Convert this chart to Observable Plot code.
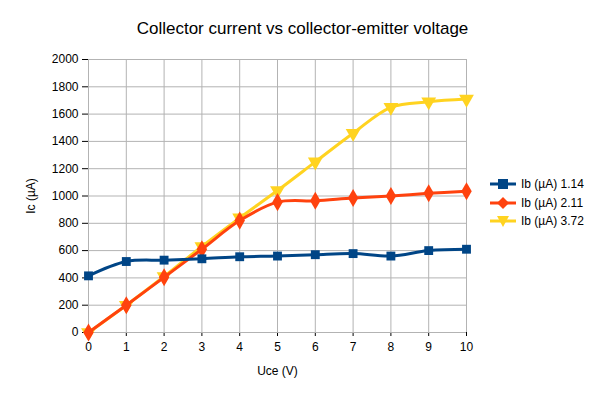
<!DOCTYPE html>
<html><head><meta charset="utf-8">
<script src="https://cdn.jsdelivr.net/npm/d3@7"></script>
<script src="https://cdn.jsdelivr.net/npm/@observablehq/plot@0.6"></script>
<style>
body{margin:0;background:#fff;font-family:"Liberation Sans",Arial,sans-serif}
#wrap{position:relative;width:605px;height:402px}
#title{position:absolute;top:19px;left:0;width:605px;text-align:center;font-size:17px;color:#000}
#legend{position:absolute;left:490px;top:175px;font-size:12px}
#legend div{display:flex;align-items:center;height:18.5px}
#legend svg{margin-right:5px}
</style></head><body>
<div id="wrap"><div id="title">Collector current vs collector-emitter voltage</div><div id="chart"></div><div id="legend"></div></div>
<script>
const uce = [0,1,2,3,4,5,6,7,8,9,10];
const ib114 = [415,520,530,540,555,560,570,578,560,600,610];
const ib211 = [0,200,405,610,820,955,965,985,1000,1020,1035];
const ib372 = [0,200,410,630,840,1040,1250,1460,1650,1690,1710];
const yTicks = d3.range(0,2001,200);

const series = [
  {name:"Ib (µA) 1.14", vals:ib114, color:"#004586", symbol:"square", rotate:0, r:5},
  {name:"Ib (µA) 2.11", vals:ib211, color:"#ff420e", symbol:"diamond", rotate:0, r:5.5},
  {name:"Ib (µA) 3.72", vals:ib372, color:"#ffd320", symbol:"triangle", rotate:180, r:5.5}
];
const marks = [
  Plot.gridX(uce,{stroke:"#b3b3b3",strokeOpacity:1}),
  Plot.gridY(yTicks,{stroke:"#b3b3b3",strokeOpacity:1}),
];
for (const s of series.slice().reverse()) {
  const data = uce.map((x,i)=>({x,y:s.vals[i]}));
  marks.push(Plot.line(data,{x:"x",y:"y",stroke:s.color,strokeWidth:3,curve:"catmull-rom"}));
  marks.push(Plot.dot(data,{x:"x",y:"y",fill:s.color,symbol:()=>s.symbol,r:s.r,rotate:s.rotate}));
}
const chart = Plot.plot({
  width:605,height:402,marginLeft:88,marginRight:139,marginTop:59,marginBottom:70,
  style:{fontFamily:"Liberation Sans, Arial, sans-serif",fontSize:"12px",color:"#000"},
  x:{type:"linear",domain:[0,10],ticks:uce,tickSize:4,tickPadding:6,label:"Uce (V)",labelAnchor:"center",labelOffset:42,labelArrow:"none"},
  y:{type:"linear",domain:[0,2000],ticks:yTicks,tickFormat:"d",tickSize:6,tickPadding:4,label:"Ic (µA)",labelAnchor:"center",labelOffset:62,labelArrow:"none"},
  symbol:{domain:["square","diamond","triangle"],range:["square","diamond","triangle"]},
  marks
});
document.getElementById("chart").appendChild(chart);
const lg = document.getElementById("legend");
const sym = {square:'<rect x="8" y="2" width="10" height="10"/>',
  diamond:'<polygon points="13,1 19,7 13,13 7,7"/>',
  triangle:'<polygon points="7,2 19,2 13,13"/>'};
for (const s of series){
  const d=document.createElement("div");
  d.innerHTML=`<svg width="26" height="14"><line x1="0" x2="26" y1="7" y2="7" stroke="${s.color}" stroke-width="3"/><g fill="${s.color}">${sym[s.symbol]}</g></svg>${s.name}`;
  lg.appendChild(d);
}
</script></body></html>
